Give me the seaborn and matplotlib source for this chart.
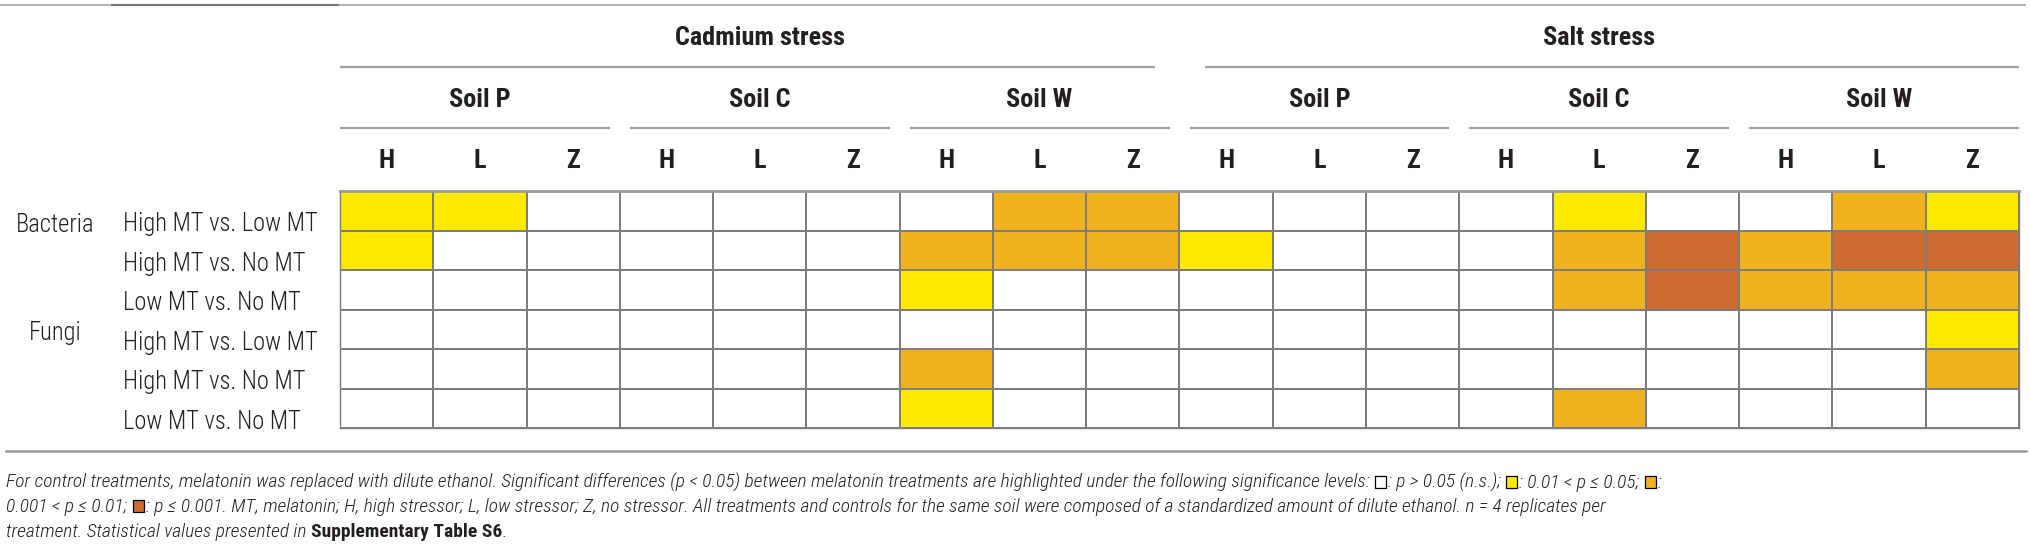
import matplotlib
matplotlib.use('Agg')
import numpy as np
import pandas as pd
import matplotlib.pyplot as plt
import matplotlib.font_manager as fm
from matplotlib.colors import ListedColormap
from matplotlib.patches import Rectangle
import seaborn as sns

# --- 数据 ---
stresses = ['Cadmium stress', 'Salt stress']
soils = ['Soil P', 'Soil C', 'Soil W']
levels = ['H', 'L', 'Z']
microbes = ['Bacteria', 'Fungi']
comparisons = ['High MT vs. Low MT', 'High MT vs. No MT', 'Low MT vs. No MT']

# 0 = n.s., 1 = 0.01<p<=0.05, 2 = 0.001<p<=0.01, 3 = p<=0.001
# 列顺序: Cd(P H L Z, C H L Z, W H L Z), Salt(P H L Z, C H L Z, W H L Z)
bacteria_high_low = [1, 1, 0, 0, 0, 0, 0, 2, 2, 0, 0, 0, 0, 1, 0, 0, 2, 1]
bacteria_high_no = [1, 0, 0, 0, 0, 0, 2, 2, 2, 1, 0, 0, 0, 2, 3, 2, 3, 3]
bacteria_low_no = [0, 0, 0, 0, 0, 0, 1, 0, 0, 0, 0, 0, 0, 2, 3, 2, 2, 2]
fungi_high_low = [0, 0, 0, 0, 0, 0, 0, 0, 0, 0, 0, 0, 0, 0, 0, 0, 0, 1]
fungi_high_no = [0, 0, 0, 0, 0, 0, 2, 0, 0, 0, 0, 0, 0, 0, 0, 0, 0, 2]
fungi_low_no = [0, 0, 0, 0, 0, 0, 1, 0, 0, 0, 0, 0, 0, 2, 0, 0, 0, 0]

sig_colors = ['#ffffff', '#ffe900', '#f0b31d', '#ce6b31']

# --- 表格 ---
cols = pd.MultiIndex.from_product([stresses, soils, levels])
rows = pd.MultiIndex.from_product([microbes, comparisons])
table = pd.DataFrame([bacteria_high_low, bacteria_high_no, bacteria_low_no,
                      fungi_high_low, fungi_high_no, fungi_low_no],
                     index=rows, columns=cols)

# --- 字体 ---
avail = {f.name for f in fm.fontManager.ttflist}


def pick(*names):
    for n in names:
        if n in avail:
            return n
    return 'DejaVu Sans'


NARROW = pick('Liberation Sans Narrow', 'Roboto Condensed', 'Liberation Sans', 'Roboto')
INK = '#231f20'

W, H = 2031, 549
fig = plt.figure(figsize=(W / 100, H / 100), dpi=100)
ov = fig.add_axes([0, 0, 1, 1])
ov.set_xlim(0, W)
ov.set_ylim(H, 0)
ov.axis('off')
renderer = fig.canvas.get_renderer()

# 热图区域 (像素)
x0, x1, y0, y1 = 340, 2019, 191, 428
hm = fig.add_axes([x0 / W, 1 - y1 / H, (x1 - x0) / W, (y1 - y0) / H])
sns.heatmap(table.values, ax=hm, cmap=ListedColormap(sig_colors), vmin=-0.5, vmax=3.5,
            cbar=False, linewidths=1.2, linecolor='#7d7d7d', xticklabels=False, yticklabels=False)
hm.set_xlabel('')
hm.set_ylabel('')
for side, sp in hm.spines.items():
    sp.set_visible(True)
    sp.set_color('#7d7d7d')
    sp.set_linewidth(1.0)
hm.spines['top'].set_color('#999999')
hm.spines['top'].set_linewidth(2.0)

n_cols = table.shape[1]
n_rows = table.shape[0]
cw = (x1 - x0) / n_cols
rh = (y1 - y0) / n_rows


def text_width(s, size, **kw):
    t = ov.text(0, 0, s, fontsize=size, **kw)
    w = t.get_window_extent(renderer).width
    t.remove()
    return w


def fit_size(s, target, **kw):
    return 10 * target / text_width(s, 10, **kw)


# --- 表头 ---
head_kw = dict(family=NARROW, fontweight='bold', color=INK)
head_size = fit_size('Cadmium stress', 170, **head_kw)
line_kw = dict(color='#a0a0a0', lw=1.6, solid_capstyle='butt')

n_soil = len(soils) * len(levels)
for k, st in enumerate(stresses):
    left = x0 + k * n_soil * cw
    right = left + n_soil * cw
    ov.text((left + right) / 2, 45, st, ha='center', va='baseline', fontsize=head_size, **head_kw)
    ov.plot([left + (25 if k > 0 else 0), right - (25 if k < len(stresses) - 1 else 0)], [67, 67], **line_kw)
    for j, so in enumerate(soils):
        sl = left + j * len(levels) * cw
        sr = sl + len(levels) * cw
        gi = k * len(soils) + j
        ov.text((sl + sr) / 2, 107, so, ha='center', va='baseline', fontsize=head_size, **head_kw)
        ov.plot([sl + (10 if gi > 0 else 0), sr - (10 if gi < len(stresses) * len(soils) - 1 else 0)],
                [128, 128], **line_kw)
        for m, lv in enumerate(levels):
            cx = sl + (m + 0.5) * cw
            ov.text(cx, 168, lv, ha='center', va='baseline', fontsize=head_size, **head_kw)

# 顶部与底部横线
ov.plot([0, 2025], [5, 5], color='#b4b4b4', lw=1.5)
ov.plot([112, 338], [5, 5], color='#777777', lw=1.5)
ov.plot([6, 2026], [451, 451], color='#9a9a9a', lw=1.8)

# --- 行标签 ---
lab_kw = dict(family=NARROW, fontweight='light', color=INK)
lab_size = fit_size('High MT vs. Low MT', 194, **lab_kw)
for i, (mic, comp) in enumerate(table.index):
    base = y0 + (i + 1) * rh + 1
    ov.text(123, base, comp, ha='left', va='baseline', fontsize=lab_size, **lab_kw)
for g, mic in enumerate(microbes):
    first = g * len(comparisons)
    base = y0 + (first + 1) * rh + 1 if g == 0 else y0 + (first + 1) * rh - 9
    ov.text(55, base, mic, ha='center', va='baseline', fontsize=lab_size, **lab_kw)

# --- 注释 ---
foot_kw = dict(family=NARROW, style='italic', fontweight='light', color=INK)
bold_kw = dict(family=NARROW, fontweight='bold', color=INK)

line1 = [('t', 'For control treatments, melatonin was replaced with dilute ethanol. Significant differences '
               '(p < 0.05) between melatonin treatments are highlighted under the following significance levels: '),
         ('b', sig_colors[0]), ('t', ': p > 0.05 (n.s.); '), ('b', sig_colors[1]),
         ('t', ': 0.01 < p \u2264 0.05; '), ('b', sig_colors[2]), ('t', ':')]
line2 = [('t', '0.001 < p \u2264 0.01; '), ('b', sig_colors[3]),
         ('t', ': p \u2264 0.001. MT, melatonin; H, high stressor; L, low stressor; Z, no stressor. '
               'All treatments and controls for the same soil were composed of a standardized amount of '
               'dilute ethanol. n = 4 replicates per')]
line3 = [('t', 'treatment. Statistical values presented in '), ('B', 'Supplementary Table S6'), ('t', '.')]

BOX_W, BOX_H = 12, 13


def run_len(kind, val, size):
    if kind == 'b':
        return BOX_W + 2
    kw = bold_kw if kind == 'B' else foot_kw
    s = val.strip()
    sp = text_width('a a', size, **kw) - text_width('aa', size, **kw)
    lead = len(val) - len(val.lstrip(' '))
    trail = len(val) - len(val.rstrip(' '))
    return lead * sp + (text_width(s, size, **kw) if s else 0) + trail * sp, lead * sp


# 字号按第一行宽度拟合
text1 = ''.join(v for k, v in line1 if k == 't')
n_box1 = sum(1 for k, v in line1 if k == 'b')
foot_size = 10 * (1976 - n_box1 * (BOX_W + 2)) / text_width(text1, 10, **foot_kw)
foot_size = min(foot_size, 14)


def draw_runs(x, base, runs, size):
    for kind, val in runs:
        if kind == 'b':
            ov.add_patch(Rectangle((x + 1, base - BOX_H + 1), BOX_W - 1, BOX_H - 1,
                                   facecolor=val, edgecolor='black', lw=0.9))
            x += BOX_W + 2
            continue
        kw = bold_kw if kind == 'B' else foot_kw
        total, lead = run_len(kind, val, size)
        if val.strip():
            ov.text(x + lead, base, val.strip(), ha='left', va='baseline', fontsize=size, **kw)
        x += total


draw_runs(6, 488, line1, foot_size)
draw_runs(6, 512, line2, foot_size)
draw_runs(6, 537, line3, foot_size)

fig.savefig('out.png', dpi=100)
